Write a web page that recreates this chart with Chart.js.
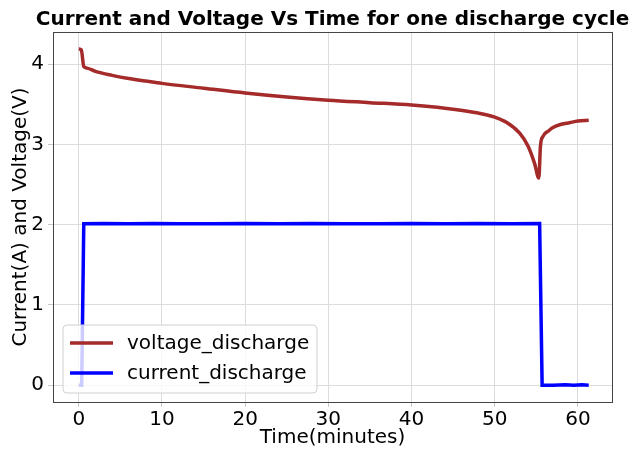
<!DOCTYPE html>
<html>
<head>
<meta charset="utf-8">
<script src="https://cdn.jsdelivr.net/npm/chart.js@4.4.0/dist/chart.umd.min.js"></script>
<style>
  html, body { margin: 0; padding: 0; background: #fff; }
  #wrap { width: 629px; height: 450px; }
</style>
</head>
<body>
<div id="wrap"><canvas id="dischargeChart" width="629" height="450"></canvas></div>
<script>
// Data
const chartTitle = "Current and Voltage Vs Time for one discharge cycle";
const seriesLabels = ["voltage_discharge", "current_discharge"];
const seriesColors = ["#a52a2a", "#0000ff"];

const voltageTime = [0, 0.3, 0.6, 1, 2, 4, 6, 8, 10, 15, 20, 25, 30, 35, 40, 44, 48, 50, 51.5, 53, 54, 54.8, 55.3, 55.5, 55.8, 56.5, 57, 58, 59, 60, 61.3];
const voltageValues = [4.19, 4.18, 3.97, 3.95, 3.91, 3.86, 3.82, 3.79, 3.76, 3.70, 3.64, 3.59, 3.55, 3.52, 3.49, 3.45, 3.39, 3.34, 3.27, 3.14, 2.98, 2.76, 2.58, 2.98, 3.10, 3.17, 3.21, 3.25, 3.27, 3.29, 3.30];

const currentTime = [0, 0.35, 0.6, 3, 6, 9, 12, 16, 20, 24, 28, 32, 36, 40, 44, 48, 52, 55.4, 55.7, 57, 58.5, 59.5, 60.5, 61.3];
const currentValues = [0, 0, 2.01, 2.015, 2.01, 2.015, 2.01, 2.01, 2.015, 2.01, 2.015, 2.01, 2.01, 2.015, 2.01, 2.015, 2.01, 2.015, 0, 0, 0.005, 0, 0.005, 0];

const xTicks = [0, 10, 20, 30, 40, 50, 60];
const yTicks = [0, 1, 2, 3, 4];

const font = "'DejaVu Sans', sans-serif";

function toPoints(xs, ys) {
    return xs.map((x, i) => ({ x: x, y: ys[i] }));
}

// axes frame + title centred over the plot area
const framePlugin = {
    id: 'frame',
    afterDraw(chart) {
        const { ctx, chartArea: a } = chart;
        ctx.save();
        ctx.strokeStyle = '#444';
        ctx.lineWidth = 1;
        ctx.strokeRect(a.left + 0.5, a.top + 0.5, a.right - a.left, a.bottom - a.top);
        ctx.fillStyle = '#000';
        ctx.font = "bold 20px " + font;
        ctx.textAlign = 'center';
        ctx.textBaseline = 'alphabetic';
        ctx.fillText(chartTitle, (a.left + a.right) / 2, 25);
        ctx.restore();
    }
};

// legend box in lower-left corner of the plot
const legendPlugin = {
    id: 'boxLegend',
    afterDatasetsDraw(chart) {
        const { ctx, chartArea: a } = chart;
        const x = a.left + 10, y = a.bottom - 77, w = 254, h = 68;
        ctx.save();
        ctx.beginPath();
        ctx.roundRect(x, y, w, h, 4);
        ctx.fillStyle = 'rgba(255,255,255,0.8)';
        ctx.fill();
        ctx.strokeStyle = '#d0d0d0';
        ctx.lineWidth = 1;
        ctx.stroke();
        ctx.font = "20px " + font;
        ctx.textBaseline = 'middle';
        chart.data.datasets.forEach((ds, i) => {
            const cy = y + 18 + i * 30;
            ctx.strokeStyle = ds.borderColor;
            ctx.lineWidth = 3.5;
            ctx.beginPath();
            ctx.moveTo(x + 7, cy);
            ctx.lineTo(x + 50, cy);
            ctx.stroke();
            ctx.fillStyle = '#000';
            ctx.fillText(ds.label, x + 64, cy + 1);
        });
        ctx.restore();
    }
};

new Chart(document.getElementById('dischargeChart'), {
    type: 'line',
    data: {
        datasets: [
            {
                label: seriesLabels[0],
                data: toPoints(voltageTime, voltageValues),
                borderColor: seriesColors[0],
                borderWidth: 3.5,
                pointRadius: 0,
                tension: 0.3,
                cubicInterpolationMode: 'monotone'
            },
            {
                label: seriesLabels[1],
                data: toPoints(currentTime, currentValues),
                borderColor: seriesColors[1],
                borderWidth: 3.5,
                pointRadius: 0,
                tension: 0
            }
        ]
    },
    plugins: [framePlugin, legendPlugin],
    options: {
        responsive: false,
        animation: false,
        layout: { padding: { top: 32, right: 17, left: 0, bottom: 0 } },
        plugins: {
            legend: { display: false },
            title: { display: false },
            tooltip: { enabled: false }
        },
        scales: {
            x: {
                type: 'linear',
                min: -3.1,
                max: 64.1,
                afterFit(scale) { scale.height = 48; },
                afterBuildTicks(scale) { scale.ticks = xTicks.map(v => ({ value: v })); },
                grid: { color: '#dcdcdc', tickColor: '#c8c8c8', tickLength: 5, drawTicks: true },
                border: { display: false },
                ticks: { color: '#000', font: { family: font, size: 20 }, padding: 1, maxRotation: 0 },
                title: { display: true, text: 'Time(minutes)', color: '#000', font: { family: font, size: 20 }, padding: { top: 1, bottom: 0 } }
            },
            y: {
                type: 'linear',
                min: -0.21,
                max: 4.4,
                afterFit(scale) { scale.width = 53; },
                afterBuildTicks(scale) { scale.ticks = yTicks.map(v => ({ value: v })); },
                grid: { color: '#dcdcdc', tickColor: '#c8c8c8', tickLength: 5, drawTicks: true },
                border: { display: false },
                ticks: { color: '#000', font: { family: font, size: 20 }, padding: 4 },
                title: { display: true, text: 'Current(A) and Voltage(V)', color: '#000', font: { family: font, size: 20 }, padding: { top: 9, bottom: 0 } }
            }
        }
    }
});
</script>
</body>
</html>
